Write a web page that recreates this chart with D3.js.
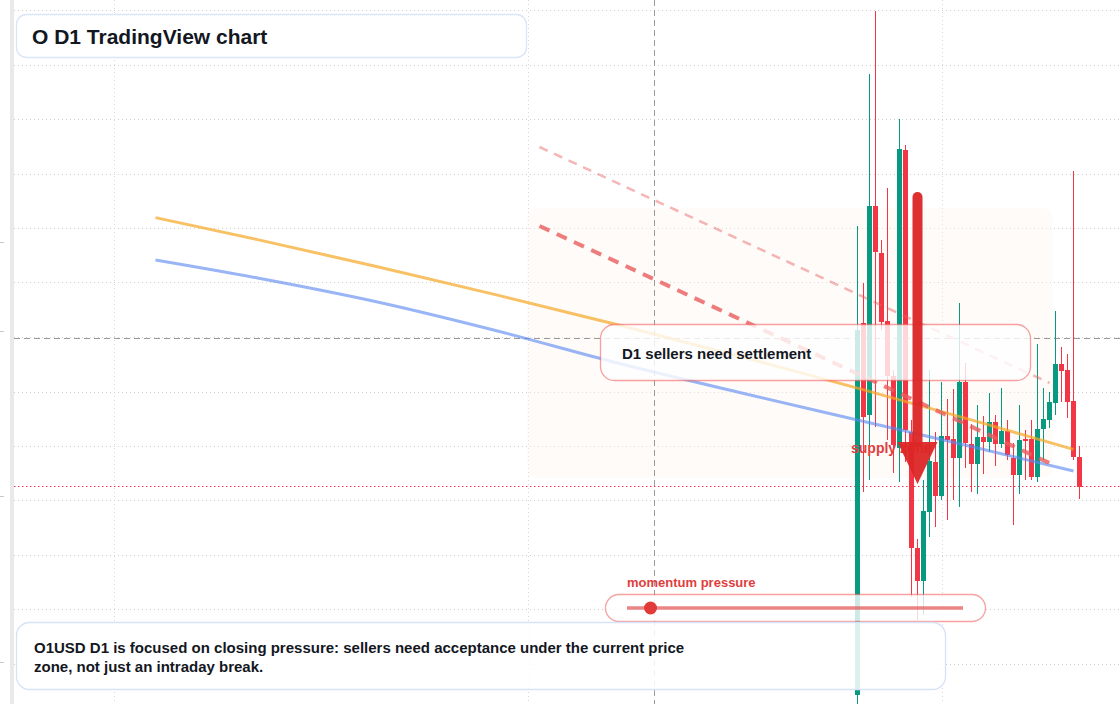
<!DOCTYPE html>
<html>
<head>
<meta charset="utf-8">
<script src="https://cdn.jsdelivr.net/npm/d3@7"></script>
<style>
html, body { margin: 0; padding: 0; background: #fff; }
svg { display: block; }
</style>
</head>
<body>
<div></div>
<script>
const width = 1120, height = 704
const svg = d3.select("div")
	.append("svg")
	.attr("xmlns", "http://www.w3.org/2000/svg")
	.attr("width", width)
	.attr("height", height)

// data: daily candles [open, high, low, close], first one at bar index 140
const firstIdx = 140
const candles = [
	[0.3009, 0.3478, 0.2999, 0.3374],
	[0.3381, 0.3421, 0.3212, 0.3287],
	[0.3289, 0.3630, 0.3224, 0.3498],
	[0.3498, 0.3693, 0.3277, 0.3452],
	[0.3451, 0.3464, 0.3374, 0.3382],
	[0.3383, 0.3516, 0.3264, 0.3328],
	[0.3328, 0.3334, 0.3231, 0.3259],
	[0.3256, 0.3585, 0.3222, 0.3555],
	[0.3554, 0.3559, 0.3242, 0.3274],
	[0.3272, 0.3284, 0.3107, 0.3156],
	[0.3156, 0.3165, 0.3084, 0.3123],
	[0.3123, 0.3224, 0.3089, 0.3193],
	[0.3192, 0.3334, 0.3167, 0.3243],
	[0.3242, 0.3272, 0.3177, 0.3208],
	[0.3208, 0.3322, 0.3204, 0.3268],
	[0.3268, 0.3305, 0.3184, 0.3264],
	[0.3265, 0.3315, 0.3204, 0.3246],
	[0.3246, 0.3401, 0.3197, 0.3322],
	[0.3322, 0.3341, 0.3236, 0.3261],
	[0.3260, 0.3280, 0.3212, 0.3240],
	[0.3240, 0.3299, 0.3210, 0.3267],
	[0.3267, 0.3288, 0.3230, 0.3262],
	[0.3262, 0.3311, 0.3252, 0.3282],
	[0.3282, 0.3289, 0.3238, 0.3260],
	[0.3260, 0.3316, 0.3256, 0.3273],
	[0.3273, 0.3284, 0.3244, 0.3249],
	[0.3246, 0.3261, 0.3179, 0.3229],
	[0.3229, 0.3299, 0.3210, 0.3264],
	[0.3265, 0.3274, 0.3224, 0.3263],
	[0.3265, 0.3284, 0.3224, 0.3227],
	[0.3227, 0.3360, 0.3222, 0.3275],
	[0.3275, 0.3316, 0.3244, 0.3285],
	[0.3284, 0.3312, 0.3276, 0.3302],
	[0.3301, 0.3393, 0.3289, 0.3340],
	[0.3340, 0.3357, 0.3302, 0.3333],
	[0.3334, 0.3350, 0.3286, 0.3302],
	[0.3303, 0.3533, 0.3244, 0.3247],
	[0.3247, 0.3258, 0.3205, 0.3217]
]
// moving averages, sampled at bar indices
const maIdx  = [23, 40, 60, 80, 100, 120, 140, 160, 176]
const maSlow = [0.34864, 0.34644, 0.34373, 0.34089, 0.33793, 0.33483, 0.33159, 0.32824, 0.32546]
const maFast = [0.3444, 0.3426, 0.3402, 0.3373, 0.3341, 0.3312, 0.3284, 0.3256, 0.3233]
// drawn levels
const trendUpper = [[87, 0.3557], [172, 0.3321]]
const trendLower = [[87, 0.3478], [172, 0.3241]]
const zoneIdx = [85, 172.5]
const zonePrice = [0.3496, 0.3226]
const closeLevel = 0.3218
const crossPrice = 0.3366
const crossIdx = 106
const arrowIdx = 150
const arrowPrice = [0.3507, 0.3262, 0.3220]
const momentum = 0.07
// grid
const gridPrices = [0.3694, 0.36395, 0.3585, 0.35305, 0.3476, 0.34215, 0.3367, 0.33125, 0.3258, 0.32035, 0.3149, 0.30945, 0.304]
const gridIdx = [16, 85, 154]
const leftTicks = [0.3462, 0.3373, 0.3208, 0.3042]

const font = "'Liberation Sans', Arial, sans-serif"
const ink = "#131722"
const up = "#089981", down = "#f23645"

// scales
const x = d3.scaleLinear().domain([0, 183.5]).range([17.5, 1118.5])
const y = d3.scaleLinear().domain([0.3000, 0.3704]).range([704, 0])

// left strip
svg.append("rect").attr("x", 10).attr("y", 0).attr("width", 4).attr("height", height).attr("fill", "#e9e9e9")
svg.selectAll().data(leftTicks).enter().append("line")
	.attr("x1", 0).attr("x2", 4)
	.attr("y1", d => Math.round(y(d)) + 0.5).attr("y2", d => Math.round(y(d)) + 0.5)
	.attr("stroke", "#c8c8c8")

// grid
svg.selectAll().data(gridPrices).enter().append("line")
	.attr("x1", 14).attr("x2", width)
	.attr("y1", d => Math.round(y(d)) + 0.5).attr("y2", d => Math.round(y(d)) + 0.5)
	.attr("stroke", "#cfcfcf").attr("stroke-dasharray", "1,3")
svg.selectAll().data(gridIdx).enter().append("line")
	.attr("x1", d => Math.round(x(d)) + 0.5).attr("x2", d => Math.round(x(d)) + 0.5)
	.attr("y1", 0).attr("y2", height)
	.attr("stroke", "#d6d6d6").attr("stroke-dasharray", "1,3")

// supply zone background
svg.append("rect")
	.attr("x", x(zoneIdx[0])).attr("y", y(zonePrice[0]))
	.attr("width", x(zoneIdx[1]) - x(zoneIdx[0]))
	.attr("height", y(zonePrice[1]) - y(zonePrice[0]))
	.attr("rx", 10)
	.attr("fill", "#fdf6ef").attr("opacity", 0.4)

// crosshair + close level
svg.append("line")
	.attr("x1", 14).attr("x2", width)
	.attr("y1", Math.round(y(crossPrice)) + 0.5).attr("y2", Math.round(y(crossPrice)) + 0.5)
	.attr("stroke", "#9a9a9a").attr("stroke-dasharray", "6,4")
svg.append("line")
	.attr("x1", Math.round(x(crossIdx)) + 0.5).attr("x2", Math.round(x(crossIdx)) + 0.5)
	.attr("y1", 0).attr("y2", height)
	.attr("stroke", "#9a9a9a").attr("stroke-dasharray", "6,4")
svg.append("line")
	.attr("x1", 14).attr("x2", width)
	.attr("y1", Math.round(y(closeLevel)) + 0.5).attr("y2", Math.round(y(closeLevel)) + 0.5)
	.attr("stroke", "#f03a4a").attr("stroke-dasharray", "1.5,2.5")

// candles
const bars = svg.selectAll().data(candles).enter().append("g")
bars.append("rect")
	.attr("x", (d, i) => x(firstIdx + i) - 0.5)
	.attr("y", d => y(d[1]))
	.attr("width", 1)
	.attr("height", d => y(d[2]) - y(d[1]))
	.attr("fill", d => d[3] >= d[0] ? up : down)
bars.append("rect")
	.attr("x", (d, i) => x(firstIdx + i) - 2.5)
	.attr("y", d => y(Math.max(d[0], d[3])))
	.attr("width", 5)
	.attr("height", d => Math.max(1, Math.abs(y(d[0]) - y(d[3]))))
	.attr("fill", d => d[3] >= d[0] ? up : down)

// moving averages
const maLine = d3.line()
	.x(d => x(d[0]))
	.y(d => y(d[1]))
	.curve(d3.curveMonotoneX)
svg.append("path")
	.attr("d", maLine(maIdx.map((d, i) => [d, maSlow[i]])))
	.attr("fill", "none").attr("stroke", "#f5a623").attr("stroke-width", 3).attr("opacity", 0.7)
svg.append("path")
	.attr("d", maLine(maIdx.map((d, i) => [d, maFast[i]])))
	.attr("fill", "none").attr("stroke", "#5b87f0").attr("stroke-width", 3).attr("opacity", 0.62)

// sloping resistance lines
const straight = d3.line().x(d => x(d[0])).y(d => y(d[1]))
svg.append("path")
	.attr("d", straight(trendUpper))
	.attr("fill", "none").attr("stroke", "#e85d5d").attr("stroke-width", 2.5)
	.attr("stroke-dasharray", "9,7").attr("opacity", 0.45)
svg.append("path")
	.attr("d", straight(trendLower))
	.attr("fill", "none").attr("stroke", "#e85d5d").attr("stroke-width", 4)
	.attr("stroke-dasharray", "11,8").attr("opacity", 0.8)

// settlement callout
svg.append("rect")
	.attr("x", 600.5).attr("y", 324.5).attr("width", 430).attr("height", 56).attr("rx", 14)
	.attr("fill", "#fff").attr("fill-opacity", 0.8)
	.attr("stroke", "#ef4444").attr("stroke-opacity", 0.5).attr("stroke-width", 1.3)
svg.append("text")
	.attr("x", 622).attr("y", 359)
	.attr("font-family", font).attr("font-size", 15).attr("font-weight", "bold")
	.attr("fill", ink)
	.text("D1 sellers need settlement")

// supply zone label + arrow
svg.append("text")
	.attr("x", x(firstIdx) - 6.5).attr("y", 453)
	.attr("font-family", font).attr("font-size", 14).attr("font-weight", "bold")
	.attr("fill", "#e03e3e")
	.text("supply zone")
svg.append("line")
	.attr("x1", x(arrowIdx)).attr("x2", x(arrowIdx))
	.attr("y1", y(arrowPrice[0])).attr("y2", y(arrowPrice[1]))
	.attr("stroke", "#dc2626").attr("stroke-width", 10).attr("stroke-linecap", "round")
	.attr("opacity", 0.95)
svg.append("path")
	.attr("d", `M${x(arrowIdx) - 20},${y(arrowPrice[1])}L${x(arrowIdx) + 20},${y(arrowPrice[1])}L${x(arrowIdx)},${y(arrowPrice[2])}Z`)
	.attr("fill", "#dc2626").attr("opacity", 0.95)

// momentum gauge
svg.append("text")
	.attr("x", 627).attr("y", 587)
	.attr("font-family", font).attr("font-size", 13).attr("font-weight", "bold")
	.attr("fill", "#e03e3e")
	.text("momentum pressure")
svg.append("rect")
	.attr("x", 605.5).attr("y", 594.5).attr("width", 380).attr("height", 27).attr("rx", 13.5)
	.attr("fill", "#fff").attr("fill-opacity", 0.8)
	.attr("stroke", "#ef4444").attr("stroke-opacity", 0.5).attr("stroke-width", 1.3)
const gauge = d3.scaleLinear().domain([0, 1]).range([627, 963])
svg.append("line")
	.attr("x1", gauge(0)).attr("x2", gauge(1)).attr("y1", 608).attr("y2", 608)
	.attr("stroke", "#e35d5d").attr("stroke-width", 3.5).attr("opacity", 0.75)
svg.append("circle")
	.attr("cx", gauge(momentum)).attr("cy", 608).attr("r", 6.5)
	.attr("fill", "#e03a3a")

// title
svg.append("rect")
	.attr("x", 16.5).attr("y", 14.5).attr("width", 510).attr("height", 43).attr("rx", 10)
	.attr("fill", "#fff").attr("stroke", "#d9e5f8").attr("stroke-width", 1.3)
svg.append("text")
	.attr("x", 32).attr("y", 44)
	.attr("font-family", font).attr("font-size", 21).attr("font-weight", "bold")
	.attr("fill", ink)
	.text("O D1 TradingView chart")

// note
svg.append("rect")
	.attr("x", 16.5).attr("y", 622.5).attr("width", 929).attr("height", 67).attr("rx", 13)
	.attr("fill", "#fff").attr("fill-opacity", 0.86)
	.attr("stroke", "#d6e2f7").attr("stroke-width", 1.3)
const note = [
	"O1USD D1 is focused on closing pressure: sellers need acceptance under the current price",
	"zone, not just an intraday break."
]
svg.selectAll().data(note).enter().append("text")
	.attr("x", 34).attr("y", (d, i) => 653 + i * 19)
	.attr("font-family", font).attr("font-size", 15).attr("font-weight", "bold")
	.attr("fill", ink)
	.text(d => d)
</script>
</body>
</html>
